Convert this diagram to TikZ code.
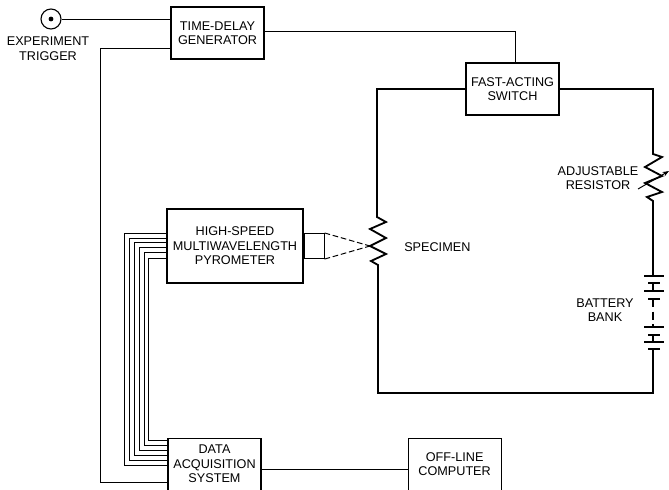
\documentclass[tikz,border=0pt]{standalone}
\usepackage{fontspec}
\setmainfont{Liberation Sans}
\usetikzlibrary{arrows.meta, positioning}

\begin{document}
\begin{tikzpicture}[
    x=0.025cm, y=-0.025cm,
    box/.style={rectangle, draw, line width=0.75pt, minimum width=2.325cm, minimum height=1.3cm, align=center, inner sep=0pt, font=\fontsize{9}{10.3}\selectfont},
    tag/.style={align=center, inner sep=0pt, font=\fontsize{9}{10.3}\selectfont},
    wire/.style={line width=0.7pt},
    power/.style={line width=1.3pt, line join=miter},
    plate/.style={line width=1.1pt},
]
\useasboundingbox (0,0) rectangle (669,489);

% Nodes
\node[box] (tdg) at (217.5,33) {TIME-DELAY\\GENERATOR};
\node[box] (switch) at (512.5,89) {FAST-ACTING\\SWITCH};
\node[box, minimum width=3.4cm, minimum height=1.85cm] (pyro) at (235,246) {HIGH-SPEED\\MULTIWAVELENGTH\\PYROMETER};
\node[box, right=0cm of pyro, minimum width=0.5cm, minimum height=0.625cm] (lens) {};
\node[box, below right=3.85cm and 0.025cm of pyro.south west] (daq) {DATA\\ACQUISITION\\SYSTEM};
\node[box, right=3.65cm of daq] (computer) {OFF-LINE\\COMPUTER};

% Trigger
\node[circle, draw, line width=0.8pt, minimum size=0.5cm, inner sep=0pt] (trig) at (51,19) {};
\node[circle, fill, minimum size=0.12cm, inner sep=0pt] (trigdot) at (trig.center) {};
\node[tag] (trigtext) at (48,48.5) {EXPERIMENT\\TRIGGER};

% Labels
\node[tag, anchor=west] (spectext) at (404,247) {SPECIMEN};
\node[tag] (restext) at (598,178) {ADJUSTABLE\\RESISTOR};
\node[tag] (battext) at (605,310) {BATTERY\\BANK};

% Circuit points
\coordinate (spectop) at (377,217);
\coordinate (specmid) at (370,246);
\coordinate (specbot) at (378,265);
\coordinate (restop) at (653,154);
\coordinate (resbot) at (653,201);
\coordinate (corner) at (378,393);
\coordinate (battop) at (653,276);
\coordinate (batbot) at (653,349);

% Wires
\draw[wire] (trig) -- (tdg.west |- trig);
\draw[wire] (tdg.east |- 0,31) -| (switch.north -| 515,0);
\draw[wire] (tdg.west |- 0,48) -- (100,48) -- (100,482) -- (daq.west |- 0,482);
\draw[wire] (daq.east |- 0,469) -- (computer.west |- 0,469);

% Bus
\foreach \bx/\ty/\by in {124/233/465, 129/238/460, 134/242/455, 139/247/450, 144/252/445, 148/258/440}
    \draw[wire] (pyro.west |- \bx,\ty) -- (\bx,\ty) -- (\bx,\by) -- (daq.west |- \bx,\by);

% Sight lines
\draw[wire, dash pattern=on 4pt off 2pt] (lens.north east) -- (specmid);
\draw[wire, dash pattern=on 4pt off 2pt] (lens.south east) -- (specmid);

% Circuit
\draw[power] (switch.west) -| (spectop) -- (386,222) -- (370,229) -- (386,238) -- (specmid) -- (386,254) -- (371,261) -- (specbot) -- (corner) -- (corner -| batbot) -- (batbot);
\draw[power] (switch.east) -| (restop) -- (662,157) -- (645,167) -- (662,176) -- (645,183) -- (662,192) -- (647,197) -- (resbot) -- (battop);
\draw[wire, -{Stealth[length=1.6mm]}] (638,189) -- (669,171);

% Battery
\foreach \py in {276,291,327,342}
    \draw[plate] (644,\py) -- (664,\py);
\foreach \py in {283,299,335,349}
    \draw[plate] (648,\py) -- (660,\py);
\draw[plate] (653,283) -- (653,291);
\draw[plate] (653,335) -- (653,342);
\draw[plate, dash pattern=on 6pt off 3pt] (653,299) -- (653,327);

\end{tikzpicture}
\end{document}
